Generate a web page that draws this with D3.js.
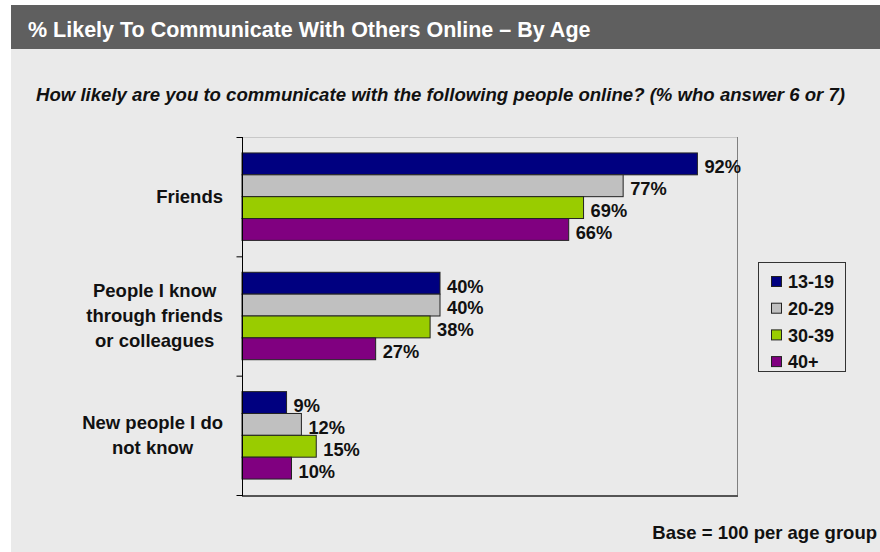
<!DOCTYPE html>
<html>
<head>
<meta charset="utf-8">
<script src="https://cdn.jsdelivr.net/npm/d3@7"></script>
<style>
  body { margin: 0; background: #fff; }
  text { font-family: "Liberation Sans", Arial, sans-serif; font-weight: bold; fill: #111; }
</style>
</head>
<body>
<div id="chart"></div>
<script>
var categories = ["Friends", "People I know through friends or colleagues", "New people I do not know"],
    categoryLines = [["Friends"], ["People I know", "through friends", "or colleagues"], ["New people I do", "not know"]],
    ages = ["13-19", "20-29", "30-39", "40+"],
    colors = ["#000080", "#c0c0c0", "#99cc00", "#800080"];

// one array per age group, values in category order
var age1319 = [92, 40, 9],
    age2029 = [77, 40, 12],
    age3039 = [69, 38, 15],
    age40 = [66, 27, 10];
var series = [age1319, age2029, age3039, age40];

var width = 880, height = 552;

var svg = d3.select("#chart").append("svg")
  .attr("width", width)
  .attr("height", height);

// background + title bar
svg.append("rect").attr("x", 11).attr("y", 5).attr("width", width - 11).attr("height", height - 5).attr("fill", "#eaeaea");
svg.append("rect").attr("x", 11).attr("y", 5).attr("width", width - 11).attr("height", 44).attr("fill", "#5f5f5f");

svg.append("text")
  .attr("x", 28).attr("y", 37)
  .style("font-size", "21.5px").style("fill", "#fff")
  .text("% Likely To Communicate With Others Online \u2013 By Age");

svg.append("text")
  .attr("x", 36).attr("y", 101)
  .style("font-size", "18.6px").style("font-style", "italic")
  .text("How likely are you to communicate with the following people online? (% who answer 6 or 7)");

//////////////////// scales ////////////////////
var x = d3.scaleLinear().domain([0, 100]).range([242, 737]);

var y0 = d3.scaleBand()
  .domain(categories)
  .range([137, 495]);

var y1 = d3.scaleBand()
  .domain(ages)
  .range([0, y0.bandwidth()])
  .paddingOuter(0.73);

//////////////////// plot frame ////////////////////
svg.append("line").attr("x1", 242).attr("x2", 737).attr("y1", 137.5).attr("y2", 137.5).attr("stroke", "#c8c8c8");
svg.append("line").attr("x1", 737.5).attr("x2", 737.5).attr("y1", 137).attr("y2", 496).attr("stroke", "#808080");
svg.append("line").attr("x1", 242).attr("x2", 738).attr("y1", 496).attr("y2", 496).attr("stroke", "#555").attr("stroke-width", 2);

// bars
var groups = svg.selectAll("g.cat")
  .data(categories)
  .enter().append("g")
  .attr("class", "cat")
  .attr("transform", function(d) { return "translate(0," + y0(d) + ")"; });

groups.each(function(cat, ci) {
  var g = d3.select(this);
  ages.forEach(function(a, ai) {
    var v = series[ai][ci];
    g.append("rect")
      .attr("x", x(0))
      .attr("y", y1(a))
      .attr("width", x(v) - x(0))
      .attr("height", y1.bandwidth())
      .attr("fill", colors[ai])
      .attr("stroke", "#222")
      .attr("stroke-width", 1);
    g.append("text")
      .attr("x", x(v) + 7)
      .attr("y", y1(a) + y1.bandwidth() / 2 + 3)
      .attr("dy", "0.35em")
      .style("font-size", "18.3px")
      .text(v + "%");
  });
});

// left axis line with ticks at the category boundaries
var axisG = svg.append("g").attr("transform", "translate(242.5,0)");
axisG.append("line").attr("y1", 137).attr("y2", 496).attr("stroke", "#000");
[137, 495].concat(categories.slice(1).map(function(c) { return y0(c); })).forEach(function(t) {
  axisG.append("line").attr("x1", -6).attr("x2", 0).attr("y1", t + 0.5).attr("y2", t + 0.5).attr("stroke", "#000");
});

// category labels: lines centred, block right-aligned
categoryLines.forEach(function(lines, ci) {
  var cy = y0(categories[ci]) + y0.bandwidth() / 2;
  var lh = 25;
  var t = svg.append("text").style("font-size", "18.5px").attr("text-anchor", "middle");
  lines.forEach(function(l, li) {
    t.append("tspan")
      .attr("y", cy + (li - (lines.length - 1) / 2) * lh)
      .attr("dy", "0.35em")
      .text(l);
  });
  var w = 0;
  t.selectAll("tspan").each(function() { w = Math.max(w, this.getComputedTextLength()); });
  t.selectAll("tspan").attr("x", 223 - w / 2);
});

// legend
var legend = svg.append("g").attr("transform", "translate(758,262)");
legend.append("rect").attr("x", 0.5).attr("y", 0.5).attr("width", 87).attr("height", 109)
  .attr("fill", "none").attr("stroke", "#333");
ages.forEach(function(a, i) {
  var cy = 20 + i * 26.7;
  legend.append("rect")
    .attr("x", 13.5).attr("y", cy - 5.5)
    .attr("width", 10).attr("height", 10)
    .attr("fill", colors[i]).attr("stroke", "#222");
  legend.append("text")
    .attr("x", 30).attr("y", cy).attr("dy", "0.35em")
    .style("font-size", "18px")
    .text(a);
});

svg.append("text")
  .attr("x", 877).attr("y", 539)
  .attr("text-anchor", "end")
  .style("font-size", "18.5px")
  .text("Base = 100 per age group");
</script>
</body>
</html>
